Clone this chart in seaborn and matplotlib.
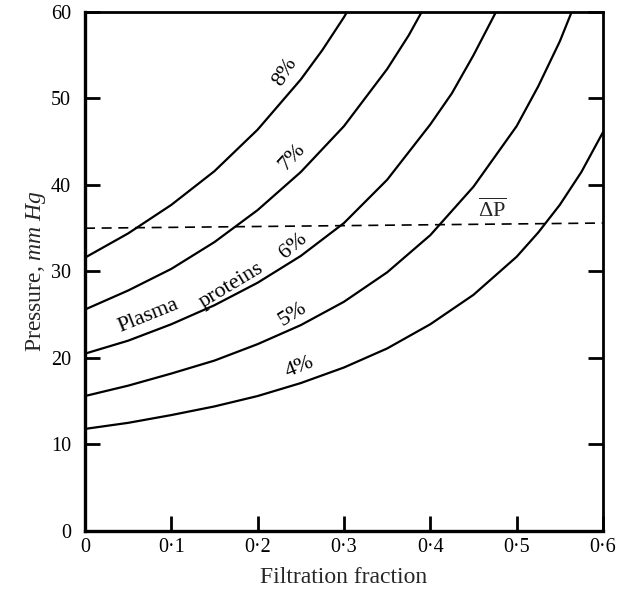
import numpy as np
import pandas as pd
import seaborn as sns
import matplotlib
matplotlib.use("Agg")
import matplotlib.pyplot as plt

# filtration fraction vs oncotic pressure
c8_x = [0, 0.05, 0.10, 0.15, 0.20, 0.25, 0.275, 0.30, 0.32]
c8_y = [31.6, 34.4, 37.7, 41.6, 46.4, 52.2, 55.6, 59.4, 62.8]
c7_x = [0, 0.05, 0.10, 0.15, 0.20, 0.25, 0.30, 0.35, 0.375, 0.40]
c7_y = [25.6, 27.8, 30.3, 33.4, 37.1, 41.5, 46.8, 53.4, 57.3, 61.8]
c6_x = [0, 0.05, 0.10, 0.15, 0.20, 0.25, 0.30, 0.35, 0.40, 0.425, 0.45, 0.475, 0.50]
c6_y = [20.5, 22.0, 23.9, 26.1, 28.7, 31.8, 35.6, 40.6, 47.0, 50.6, 55.0, 59.8, 65.0]
c5_x = [0, 0.05, 0.10, 0.15, 0.20, 0.25, 0.30, 0.35, 0.40, 0.45, 0.50, 0.525, 0.55, 0.575]
c5_y = [15.6, 16.8, 18.2, 19.7, 21.6, 23.8, 26.5, 29.9, 34.2, 39.8, 46.8, 51.4, 56.6, 62.8]
c4_x = [0, 0.05, 0.10, 0.15, 0.20, 0.25, 0.30, 0.35, 0.40, 0.45, 0.50, 0.525, 0.55, 0.575, 0.60]
c4_y = [11.8, 12.5, 13.4, 14.4, 15.6, 17.1, 18.9, 21.1, 23.9, 27.3, 31.7, 34.5, 37.7, 41.5, 46.1]
dp_x = [0, 0.6]
dp_y = [35.0, 35.6]

curves = [(c8_x, c8_y), (c7_x, c7_y), (c6_x, c6_y), (c5_x, c5_y), (c4_x, c4_y)]
x_ticks = [0, 0.1, 0.2, 0.3, 0.4, 0.5, 0.6]
x_labels = ["0", "0·1", "0·2", "0·3", "0·4", "0·5", "0·6"]
y_ticks = [0, 10, 20, 30, 40, 50, 60]

sns.set_theme(style="ticks")
plt.rcParams['font.family'] = ['Liberation Serif', 'DejaVu Serif']
plt.rcParams['mathtext.fontset'] = 'custom'
plt.rcParams['mathtext.rm'] = 'Liberation Serif'
plt.rcParams['mathtext.it'] = 'Liberation Serif:italic'

fig = plt.figure(figsize=(6.19, 5.93), dpi=100)
ax = fig.add_axes([0.1373, 0.1046, 0.8368, 0.8752])

for cx, cy in curves:
    sns.lineplot(x=cx, y=cy, ax=ax, color='black', linewidth=1.6, legend=False)
sns.lineplot(x=dp_x, y=dp_y, ax=ax, color='black', linewidth=1.2,
             linestyle=(0, (6, 4)), legend=False)

ax.set_xlim(0, 0.6)
ax.set_ylim(0, 60)
ax.set_xticks(x_ticks)
ax.set_xticklabels(x_labels)
ax.set_yticks(y_ticks)
ax.tick_params(direction='in', length=11, width=2, labelsize=14.5, colors='black',
               right=True, labelright=False, top=False)
ax.tick_params(axis='y', pad=10)
ax.tick_params(axis='x', pad=5)
for s in ['left', 'bottom']:
    ax.spines[s].set_linewidth(2.4)
for s in ['top', 'right']:
    ax.spines[s].set_linewidth(2.0)
for s in ax.spines.values():
    s.set_color('black')

ax.set_xlabel("Filtration fraction", fontsize=17, labelpad=7)
ax.set_ylabel(r"Pressure, $\mathit{mm\ Hg}$", fontsize=17, labelpad=2)

lbl = dict(fontsize=16, ha='center', va='center', color='black')
ax.text(0.232, 53.0, "8%", rotation=58, **lbl)
ax.text(0.240, 43.2, "7%", rotation=47, **lbl)
ax.text(0.241, 32.9, "6%", rotation=40, **lbl)
ax.text(0.073, 24.9, "Plasma", rotation=22, **lbl)
ax.text(0.170, 28.4, "proteins", rotation=31, **lbl)
ax.text(0.241, 25.1, "5%", rotation=32, **lbl)
ax.text(0.249, 18.9, "4%", rotation=22, **lbl)
ax.text(0.472, 37.0, r"$\overline{\Delta\mathrm{P}}$", fontsize=16, ha='center', va='center')

fig.savefig("out.png", dpi=100)
